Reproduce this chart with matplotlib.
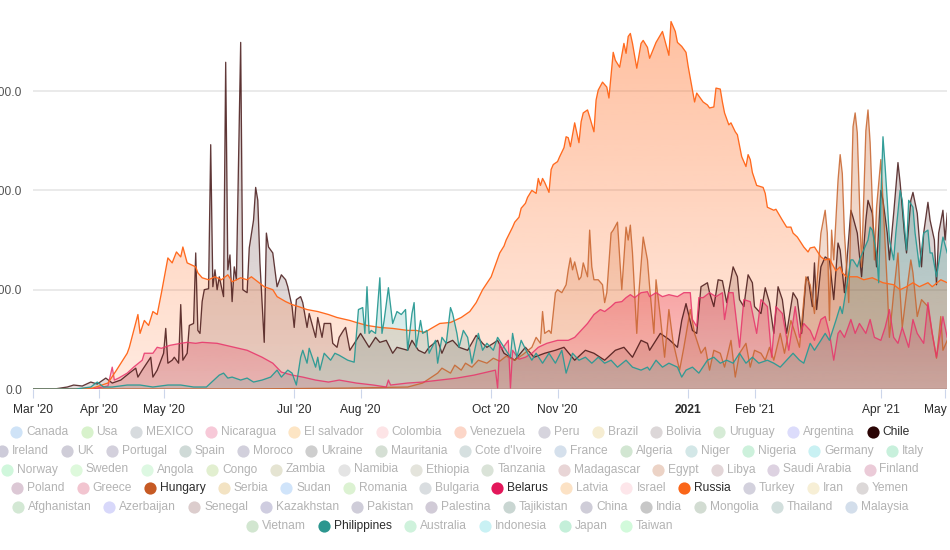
import datetime as dt
import numpy as np
import matplotlib
matplotlib.use("Agg")
import matplotlib.pyplot as plt
import matplotlib.dates as mdates
from matplotlib.lines import Line2D
from matplotlib.patches import Polygon
from matplotlib.colors import to_rgb

# ---------------- data (day offset from 2020-03-01, value) ----------------
START = dt.date(2020, 3, 1)

chile = [(0,0),(10,0),(16,2),(19,4),(23,3),(27,7),(30,5),(34,11),(37,6),(41,9),(45,16),(48,21),(49,12),(51,19),(55,32),(56,12),(58,19),(61,36),(62,61),(63,26),(65,29),(66,32),(68,26),(69,85),(70,29),(72,36),(73,64),(75,66),(76,137),(77,59),(78,56),(79,88),(80,100),(82,101),(83,246),(84,103),(85,120),(86,100),(87,113),(89,93),(90,329),(91,120),(92,135),(93,88),(94,123),(95,110),(97,349),(98,100),(100,97),(101,142),(103,170),(104,203),(105,190),(106,127),(108,47),(109,157),(110,143),(112,137),(113,120),(114,103),(116,115),(118,110),(119,103),(121,83),(122,62),(123,90),(125,93),(126,87),(128,62),(129,76),(132,52),(133,72),(135,52),(136,66),(139,66),(140,46),(142,42),(143,52),(145,59),(146,62),(148,39),(151,49),(153,56),(155,49),(157,42),(160,52),(162,47),(165,49),(168,36),(170,42),(175,39),(177,49),(180,39),(183,36),(185,42),(189,49),(191,36),(193,46),(196,49),(199,42),(203,39),(207,54),(210,46),(212,42),(215,46),(217,49),(220,36),(225,29),(230,42),(234,32),(239,36),(244,39),(248,42),(253,29),(258,39),(262,36),(267,29),(272,39),(276,42),(280,32),(284,49),(287,46),(288,39),(293,56),(297,50),(301,42),(303,69),(305,86),(308,59),(310,56),(312,103),(315,107),(316,97),(318,83),(320,110),(322,109),(324,87),(327,123),(329,113),(330,90),(332,83),(334,115),(336,107),(337,83),(340,76),(342,102),(344,87),(346,56),(348,103),(350,90),(352,56),(355,97),(357,90),(359,56),(361,110),(362,113),(364,83),(365,127),(366,80),(368,123),(370,133),(372,130),(374,90),(376,147),(377,140),(379,97),(382,180),(383,173),(385,157),(387,113),(389,170),(390,190),(392,177),(394,123),(396,200),(397,190),(399,157),(400,130),(402,177),(404,228),(405,208),(407,157),(408,137),(410,190),(411,198),(413,177),(415,123),(416,157),(418,188),(419,170),(421,150),(422,105),(423,157),(425,180),(426,150),(427,177)]

hungary = [(0,0),(100,0),(150,1),(175,2),(182,6),(189,16),(191,21),(195,16),(197,24),(200,19),(202,26),(205,22),(208,29),(212,26),(215,31),(218,28),(221,33),(225,29),(229,35),(233,42),(235,52),(237,46),(238,78),(239,56),(241,59),(242,56),(244,97),(245,100),(247,97),(249,105),(250,120),(251,132),(252,120),(253,128),(255,110),(256,113),(257,127),(259,113),(260,160),(261,123),(262,110),(264,110),(266,105),(267,87),(268,97),(270,157),(271,160),(273,168),(274,133),(275,100),(277,163),(278,150),(279,165),(280,137),(282,56),(283,97),(285,153),(287,130),(288,103),(290,56),(291,110),(293,73),(295,32),(297,80),(299,47),(302,19),(304,42),(307,80),(309,56),(312,36),(314,42),(316,19),(318,39),(321,36),(323,22),(326,49),(328,12),(330,36),(333,46),(335,22),(337,39),(340,36),(342,29),(344,42),(346,29),(349,56),(351,36),(354,69),(356,56),(358,42),(361,113),(363,105),(365,76),(368,157),(370,180),(371,157),(372,69),(373,160),(374,130),(376,210),(377,236),(378,217),(379,157),(381,87),(383,264),(384,278),(385,258),(387,123),(389,260),(390,281),(391,248),(393,130),(394,183),(396,231),(397,190),(399,103),(400,52),(402,97),(404,137),(405,97),(406,62),(408,97),(410,130),(411,117),(413,73),(415,90),(418,83),(420,56),(422,31),(424,73),(425,39),(427,49)]

belarus = [(0,0),(28,0),(30,1),(35,3),(37,22),(38,9),(40,11),(44,16),(47,22),(51,29),(52,36),(56,36),(58,42),(60,41),(64,44),(69,46),(72,47),(76,46),(79,47),(86,46),(94,42),(100,39),(107,32),(112,26),(116,17),(121,14),(126,12),(132,9),(138,7),(143,9),(151,6),(159,4),(165,2),(166,9),(167,4),(175,6),(182,7),(190,9),(198,11),(206,14),(212,17),(216,19),(217,1),(218,46),(219,40),(222,49),(223,1),(224,39),(227,30),(230,32),(233,36),(236,42),(240,46),(245,49),(250,49),(253,52),(256,59),(259,66),(262,75),(265,80),(267,78),(270,83),(272,87),(275,88),(277,92),(279,95),(281,92),(284,97),(287,98),(288,93),(291,97),(294,93),(297,95),(301,93),(304,97),(307,97),(308,70),(310,63),(311,92),(313,92),(316,97),(319,93),(322,97),(323,70),(325,97),(327,97),(330,42),(332,90),(335,88),(338,56),(340,90),(343,83),(345,32),(347,83),(350,76),(353,39),(356,83),(358,52),(360,66),(363,59),(365,49),(368,70),(370,73),(372,56),(374,29),(376,56),(377,59),(379,52),(382,70),(384,56),(386,66),(389,56),(391,70),(393,52),(396,49),(398,62),(400,80),(402,52),(404,46),(406,62),(409,42),(411,70),(413,56),(416,46),(418,87),(420,56),(422,32),(425,73),(427,52)]

russia = [(0,0),(20,0),(28,1),(35,6),(39,19),(44,36),(45,42),(49,75),(50,56),(52,69),(54,64),(56,78),(58,75),(60,97),(63,132),(65,127),(67,138),(69,133),(70,143),(72,127),(74,125),(76,123),(77,117),(79,112),(82,110),(85,113),(88,110),(91,115),(93,108),(97,112),(100,110),(102,113),(105,108),(108,103),(112,100),(114,93),(118,88),(121,85),(124,83),(128,80),(133,78),(138,75),(142,72),(148,69),(151,67),(156,64),(162,62),(168,61),(175,59),(179,59),(183,57),(186,61),(190,66),(195,67),(200,72),(204,78),(207,87),(210,100),(214,113),(216,125),(218,137),(220,144),(221,150),(224,163),(225,168),(227,173),(228,182),(230,187),(231,193),(233,200),(235,197),(236,212),(237,205),(238,212),(239,208),(241,198),(242,221),(243,226),(245,229),(246,234),(248,243),(249,254),(250,253),(251,244),(253,268),(254,258),(255,248),(256,269),(257,278),(259,281),(260,274),(262,259),(263,291),(264,301),(266,309),(268,304),(269,293),(271,339),(272,331),(274,324),(276,348),(277,338),(278,355),(279,358),(280,348),(282,323),(284,348),(285,351),(287,344),(288,333),(291,349),(294,360),(295,352),(297,336),(298,370),(300,360),(301,349),(303,345),(305,339),(306,325),(308,301),(309,289),(310,298),(312,292),(313,289),(315,286),(316,283),(318,284),(319,303),(321,302),(322,289),(323,278),(325,266),(326,268),(328,259),(329,256),(331,234),(333,224),(334,236),(335,231),(336,218),(338,205),(341,203),(342,197),(343,183),(346,180),(347,181),(350,170),(352,163),(354,163),(355,157),(357,153),(360,143),(362,138),(363,142),(365,143),(368,133),(370,130),(372,131),(375,119),(377,123),(378,117),(380,113),(385,113),(388,110),(392,112),(397,107),(402,105),(405,100),(408,103),(411,107),(414,103),(418,107),(420,103),(424,110),(427,107)]

philippines = [(0,0),(20,0),(27,2),(30,7),(33,2),(37,2),(44,4),(50,4),(56,2),(63,4),(69,4),(75,2),(81,2),(87,14),(89,16),(91,11),(93,12),(97,9),(100,11),(103,7),(107,9),(111,12),(114,19),(116,12),(119,19),(121,16),(123,4),(125,32),(126,39),(128,26),(129,41),(132,22),(133,32),(134,19),(136,36),(139,29),(141,36),(143,34),(147,29),(150,27),(152,80),(154,82),(155,56),(156,103),(157,56),(158,59),(160,56),(162,112),(163,56),(164,69),(166,102),(168,66),(170,78),(172,75),(174,80),(175,39),(177,76),(178,87),(179,42),(181,69),(182,56),(184,59),(185,36),(188,49),(189,26),(191,52),(193,46),(195,82),(196,76),(198,56),(199,42),(201,59),(203,52),(205,26),(206,36),(208,56),(210,39),(212,46),(215,39),(217,52),(220,42),(223,32),(224,56),(226,32),(228,49),(231,36),(233,29),(235,36),(238,26),(241,36),(244,26),(247,39),(249,16),(252,36),(255,29),(258,32),(261,26),(264,32),(267,26),(270,29),(273,22),(277,29),(280,22),(284,19),(287,22),(288,19),(291,29),(294,22),(297,26),(301,22),(303,12),(305,19),(308,22),(311,16),(315,29),(318,32),(321,26),(324,29),(327,26),(330,36),(333,26),(336,32),(339,26),(343,29),(346,26),(349,22),(352,29),(355,36),(358,29),(360,26),(363,46),(365,39),(368,49),(370,56),(372,49),(375,69),(377,83),(378,76),(380,103),(382,130),(383,130),(385,123),(386,130),(388,140),(390,150),(391,163),(392,160),(394,137),(395,107),(396,190),(397,254),(398,224),(399,190),(400,150),(402,130),(403,157),(405,200),(406,190),(408,140),(409,190),(411,183),(412,157),(414,123),(416,157),(418,160),(419,137),(420,137),(422,113),(424,140),(425,153),(427,137)]

tick_dates = ["2020-03-01", "2020-04-01", "2020-05-01", "2020-07-01", "2020-08-01",
              "2020-10-01", "2020-11-01", "2021-01-01", "2021-02-01", "2021-04-01", "2021-05-01"]
tick_labels = ["Mar '20", "Apr '20", "May '20", "Jul '20", "Aug '20",
               "Oct '20", "Nov '20", "2021", "Feb '21", "Apr '21", "May '21"]
y_ticks = [0, 100, 200, 300]

legend_rows = [
    ["Canada", "Usa", "MEXICO", "Nicaragua", "El salvador", "Colombia", "Venezuela", "Peru", "Brazil", "Bolivia", "Uruguay", "Argentina", "Chile"],
    ["Ireland", "UK", "Portugal", "Spain", "Moroco", "Ukraine", "Mauritania", "Cote d'Ivoire", "France", "Algeria", "Niger", "Nigeria", "Germany", "Italy"],
    ["Norway", "Sweden", "Angola", "Congo", "Zambia", "Namibia", "Ethiopia", "Tanzania", "Madagascar", "Egypt", "Libya", "Saudi Arabia", "Finland"],
    ["Poland", "Greece", "Hungary", "Serbia", "Sudan", "Romania", "Bulgaria", "Belarus", "Latvia", "Israel", "Russia", "Turkey", "Iran", "Yemen"],
    ["Afghanistan", "Azerbaijan", "Senegal", "Kazakhstan", "Pakistan", "Palestina", "Tajikistan", "China", "India", "Mongolia", "Thailand", "Malaysia"],
    ["Vietnam", "Philippines", "Australia", "Indonesia", "Japan", "Taiwan"],
]
legend_colors = [
    ["#cfe3f7", "#d8f2cc", "#d7dbde", "#f7c9d8", "#fde5c4", "#fde4e6", "#fcd6c8", "#d6d4dd", "#f6edd2", "#dcd7d8", "#d6ebd6", "#dcdcfb", "#2b0505"],
    ["#cdcbd9", "#cfcdd8", "#d3d0dc", "#cfdad7", "#d2d0dc", "#cecece", "#d5dfd4", "#d6e0e0", "#d5e0ec", "#d2e6d2", "#d3e7e7", "#cdf1dc", "#c9f1f3", "#c8f0dc"],
    ["#d0f7dc", "#def9dc", "#ddf8e2", "#e2efd0", "#e5e4d2", "#e4e4e4", "#e4e4dc", "#dae3d8", "#e8d5d6", "#ecd3c6", "#e3d6d8", "#ddd2e1", "#ebcbd8"],
    ["#dcc8d5", "#f2c5d0", "#c65a24", "#f3e3c3", "#d0e4fa", "#dcf2d2", "#d9dde0", "#e3175a", "#fce2c5", "#fde6ea", "#fa6619", "#d3d1dd", "#f7efd6", "#dcd8d8"],
    ["#d3e8d4", "#d8d8fa", "#dccdcd", "#cfcde0", "#cfcdd9", "#d1cbd7", "#c9d6d2", "#cfcdd8", "#c7c7c7", "#d2dcd2", "#d2dfdd", "#d3deeb"],
    ["#d2e6d0", "#2c968f", "#cff2dc", "#c9f1f4", "#c4efd9", "#d2fadb"],
]
active = {"Chile", "Hungary", "Belarus", "Russia", "Philippines"}

# (name, data, line colour, fill alpha top, fill alpha bottom, line alpha)
series = [
    ("Chile", chile, "#3d0c0c", 0.24, 0.14, 0.8),
    ("Hungary", hungary, "#c8642d", 0.32, 0.14, 0.85),
    ("Belarus", belarus, "#e8336a", 0.36, 0.16, 0.85),
    ("Russia", russia, "#ff6a1f", 0.42, 0.14, 1.0),
    ("Philippines", philippines, "#2a9a94", 0.30, 0.14, 0.95),
]

# ---------------- figure ----------------
W, H = 950, 550
FONT = "Liberation Sans"
FS = 12 * 72 / 100  # 12px

fig = plt.figure(figsize=(W / 100, H / 100), dpi=100)
ax = fig.add_axes([33 / W, 161 / H, 914 / W, 389 / H])
ax.set_facecolor("none")
for s in ax.spines.values():
    s.set_visible(False)

x0 = mdates.date2num(START)

def xs(days):
    return x0 + np.asarray(days, dtype=float)

for yv in y_ticks[1:]:
    ax.axhline(yv, color="#e6e6e6", lw=1.2, zorder=0)
ax.axhline(0, color="#e0e0e0", lw=1.2, zorder=0)

for i, (name, data, col, a_top, a_bot, la) in enumerate(series):
    d = np.array(data, dtype=float)
    x = xs(d[:, 0])
    y = d[:, 1]
    verts = [(x[0], 0)] + list(zip(x, y)) + [(x[-1], 0)]
    poly = Polygon(verts, closed=True, facecolor="none", edgecolor="none")
    ax.add_patch(poly)
    rgb = to_rgb(col)
    img = np.zeros((256, 1, 4))
    img[:, 0, :3] = rgb
    img[:, 0, 3] = np.linspace(a_bot, a_top, 256)
    im = ax.imshow(img, aspect="auto", origin="lower",
                   extent=[x[0], x[-1], 0, y.max()], zorder=1 + i * 0.1,
                   interpolation="bilinear")
    im.set_clip_path(poly)
    ax.plot(x, y, color=col, lw=0.95, alpha=la, zorder=2 + i * 0.1,
            solid_joinstyle="round")

ax.set_xlim(x0, x0 + 426.9)
ax.set_ylim(0, 391.7)

tick_x = [mdates.date2num(dt.date.fromisoformat(t)) for t in tick_dates]
ax.set_xticks(tick_x)
ax.set_xticklabels(tick_labels, fontfamily=FONT, fontsize=FS, color="#2b2b2b")
for lab in ax.get_xticklabels():
    if lab.get_text() == "2021":
        lab.set_fontweight("bold")
ax.tick_params(axis="x", length=6.5, width=0.8, color="#ccd6eb", pad=4)

ax.set_yticks(y_ticks)
ax.set_yticklabels([f"{v:.1f}" for v in y_ticks], fontfamily=FONT,
                   fontsize=FS, color="#555555")
ax.tick_params(axis="y", length=0, pad=8)

# ---------------- legend ----------------
renderer = fig.canvas.get_renderer()
row_y = [431.7, 450.7, 469.5, 488.3, 507.0, 526.0]
center_x = 460
for names, cols, ry in zip(legend_rows, legend_colors, row_y):
    widths = []
    for n in names:
        t = fig.text(0, 0, n, fontfamily=FONT, fontsize=FS)
        widths.append(t.get_window_extent(renderer).width)
        t.remove()
    total = sum(16 + w for w in widths) + 12 * (len(names) - 1)
    left = center_x - total / 2
    for n, c, w in zip(names, cols, widths):
        fy = 1 - ry / H
        fig.add_artist(Line2D([(left + 6) / W], [fy], marker="o", markersize=8.8,
                              markeredgewidth=0, color=c, transform=fig.transFigure))
        fig.text((left + 16) / W, fy, n, fontfamily=FONT, fontsize=FS,
                 color="#2b2b2b" if n in active else "#b3b3b3",
                 va="center", ha="left")
        left += 16 + w + 12

fig.savefig("out.png", dpi=100)
